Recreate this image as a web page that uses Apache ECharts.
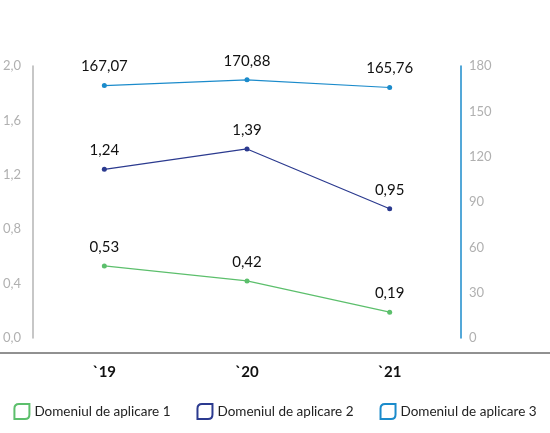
<!DOCTYPE html><html><head><meta charset="utf-8"><script src="https://cdn.jsdelivr.net/npm/echarts@6/dist/echarts.min.js"></script></head><body style="margin:0"><div id="c" style="width:550px;height:433px"></div><script>
const categories=['`19','`20','`21'];
const s1=[0.53,0.42,0.19];
const s2=[1.24,1.39,0.95];
const s3=[167.07,170.88,165.76];
const names=['Domeniul de aplicare 1','Domeniul de aplicare 2','Domeniul de aplicare 3'];
const colors=['#5cbf6c','#2b3a8f','#1b8bcb'];
const leaf='path://M3,0 L10,0 L10,7 Q10,10 7,10 L0,10 L0,3 Q0,0 3,0 Z';
const fmt=p=>p.value.toFixed(2).replace('.',',');
const ch=echarts.init(document.getElementById('c'));
function ser(i,data,yi){return {name:names[i],type:'line',yAxisIndex:yi,data:data,symbol:'circle',symbolSize:5,
 lineStyle:{width:1.2,color:colors[i]},itemStyle:{color:colors[i]},
 label:{show:true,position:'top',distance:9,formatter:fmt,color:'#111',fontSize:15,fontFamily:'Lato'}};}
ch.setOption({
 textStyle:{fontFamily:'Lato'},
 grid:{left:30,right:89,top:66,bottom:95},
 legend:{bottom:8,left:'center',itemWidth:15,itemHeight:15,itemGap:26,icon:leaf,
  data:names.map((n,i)=>({name:n,itemStyle:{color:'transparent',borderColor:colors[i],borderWidth:2}})),
  textStyle:{color:'#222',fontSize:13.5}},
 xAxis:{type:'category',data:categories,offset:15,axisLine:{show:false},axisTick:{show:false},
  axisLabel:{fontWeight:'bold',fontSize:15,color:'#111',margin:12}},
 yAxis:[{type:'value',min:0,max:2,interval:0.4,splitLine:{show:false},position:'left',
  axisLine:{show:true,onZero:false,lineStyle:{color:'#b5b5b5',width:1.5}},
  axisLabel:{color:'#b0b0b0',fontSize:13,align:'left',margin:30,formatter:v=>v.toFixed(1).replace('.',',')}},
  {type:'value',min:0,max:180,interval:30,splitLine:{show:false},position:'right',
  axisLine:{show:true,onZero:false,lineStyle:{color:'#1b8bcb',width:1.5}},axisTick:{show:false},axisLabel:{color:'#b0b0b0',fontSize:13,margin:8}}],
 graphic:[{type:'line',shape:{x1:0,y1:353,x2:550,y2:353},style:{stroke:'#222',lineWidth:1}}],
 series:[ser(0,s1,0),ser(1,s2,0),ser(2,s3,1)]
});
</script></body></html>
